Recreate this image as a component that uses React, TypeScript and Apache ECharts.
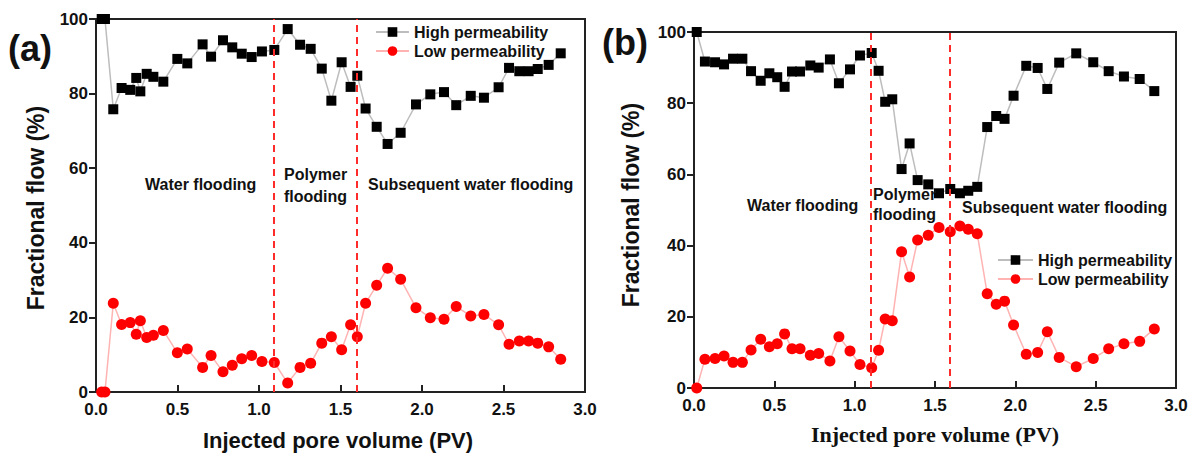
import React, { useEffect, useRef } from "react";
import * as echarts from "echarts";

// Panel (a)
const pvA = [0.035, 0.055, 0.106, 0.157, 0.21, 0.247, 0.272, 0.311, 0.352, 0.413, 0.499, 0.56, 0.654, 0.706, 0.779, 0.836, 0.894, 0.955, 1.018, 1.094, 1.176, 1.252, 1.317, 1.385, 1.444, 1.507, 1.562, 1.603, 1.654, 1.722, 1.789, 1.869, 1.963, 2.051, 2.135, 2.21, 2.299, 2.38, 2.47, 2.534, 2.597, 2.654, 2.71, 2.777, 2.851];
const highA = [100, 100, 75.8, 81.5, 81, 84.2, 80.6, 85.3, 84.5, 83.2, 89.3, 88.1, 93.2, 89.9, 94.3, 92.4, 90.7, 89.8, 91.3, 91.7, 97.3, 93.1, 92, 86.7, 78.1, 88.4, 81.8, 84.8, 76, 71.1, 66.5, 69.5, 77.1, 79.8, 80.4, 76.9, 79.4, 78.9, 81.7, 86.9, 86, 86, 86.6, 87.7, 90.8];
const lowA = [0, 0, 23.8, 18.1, 18.6, 15.5, 19.1, 14.6, 15.2, 16.5, 10.5, 11.5, 6.6, 9.8, 5.4, 7.2, 8.9, 9.8, 8.2, 7.9, 2.4, 6.6, 7.7, 13.1, 14.8, 11.3, 18, 14.8, 23.8, 28.6, 33.2, 30.2, 22.6, 19.9, 19.5, 22.9, 20.4, 20.8, 18, 12.8, 13.7, 13.7, 13.1, 12.1, 8.8];
const phaseA = [1.09, 1.6];

// Panel (b)
const pvB = [0.017, 0.068, 0.131, 0.187, 0.243, 0.301, 0.355, 0.415, 0.469, 0.518, 0.564, 0.61, 0.66, 0.724, 0.776, 0.846, 0.902, 0.971, 1.033, 1.106, 1.149, 1.19, 1.234, 1.292, 1.342, 1.392, 1.458, 1.525, 1.595, 1.655, 1.707, 1.763, 1.825, 1.881, 1.933, 1.989, 2.068, 2.139, 2.199, 2.273, 2.379, 2.485, 2.581, 2.676, 2.774, 2.865];
const highB = [100, 91.7, 91.5, 90.9, 92.5, 92.5, 89, 86.3, 88.4, 87.3, 84.6, 88.9, 88.9, 90.6, 90, 92.3, 85.6, 89.5, 93.4, 94.1, 89.1, 80.4, 81.1, 61.5, 68.7, 58.4, 57.2, 54.7, 55.9, 54.7, 55.4, 56.5, 73.3, 76.4, 75.6, 82.1, 90.5, 89.9, 84, 91.4, 94, 91.5, 89, 87.5, 86.8, 83.4];
const lowB = [0, 8.1, 8.3, 9, 7.2, 7.2, 10.7, 13.7, 11.6, 12.4, 15.2, 11, 11, 9.2, 9.7, 7.6, 14.4, 10.4, 6.6, 5.7, 10.6, 19.4, 18.9, 38.3, 31.2, 41.6, 42.9, 45.1, 43.9, 45.5, 44.6, 43.3, 26.5, 23.5, 24.4, 17.7, 9.5, 10, 15.8, 8.6, 6, 8.3, 11, 12.4, 13.1, 16.6];
const phaseB = [1.1, 1.595];

const seriesNames = ["High permeability", "Low permeability"];
const xTicks = { min: 0, max: 3, interval: 0.5 };
const yTicks = { min: 0, max: 100, interval: 20 };

const SANS = "Arial, 'Liberation Sans', Helvetica, sans-serif";
const SERIF = "'Times New Roman', 'Liberation Serif', serif";

function zip(xs: number[], ys: number[]) {
  return xs.map((x, i) => [x, ys[i]]);
}

function xAxisFor(gridIndex: number) {
  return {
    type: "value",
    gridIndex,
    min: xTicks.min,
    max: xTicks.max,
    interval: xTicks.interval,
    axisLine: { show: true, onZero: false, lineStyle: { color: "#222", width: 2 } },
    axisTick: { show: true, inside: true, length: 7, lineStyle: { color: "#222", width: 2 } },
    axisLabel: {
      color: "#111",
      fontSize: 17,
      fontWeight: "bold",
      fontFamily: SANS,
      margin: 9,
      formatter: (v: number) => v.toFixed(1),
    },
    splitLine: { show: false },
  };
}

function yAxisFor(gridIndex: number) {
  return {
    type: "value",
    gridIndex,
    min: yTicks.min,
    max: yTicks.max,
    interval: yTicks.interval,
    axisLine: { show: true, onZero: false, lineStyle: { color: "#222", width: 2 } },
    axisTick: { show: true, inside: false, length: 7, lineStyle: { color: "#222", width: 2 } },
    axisLabel: {
      color: "#111",
      fontSize: 17,
      fontWeight: "bold",
      fontFamily: SANS,
      margin: 8,
    },
    splitLine: { show: false },
  };
}

function markLineFor(xs: number[]) {
  return {
    silent: true,
    symbol: ["none", "none"],
    label: { show: false },
    lineStyle: { color: "#ff2a2a", type: [7, 5], width: 2 },
    data: xs.map((x) => ({ xAxis: x })),
  };
}

function seriesFor(idx: number, pv: number[], high: number[], low: number[], phases: number[]) {
  return [
    {
      name: seriesNames[0],
      type: "line",
      xAxisIndex: idx,
      yAxisIndex: idx,
      data: zip(pv, high),
      symbol: "rect",
      symbolSize: 10,
      clip: false,
      itemStyle: { color: "#000" },
      lineStyle: { color: "#bdbdbd", width: 1.5 },
      z: 3,
    },
    {
      name: seriesNames[1],
      type: "line",
      xAxisIndex: idx,
      yAxisIndex: idx,
      data: zip(pv, low),
      symbol: "circle",
      symbolSize: 11,
      clip: false,
      itemStyle: { color: "#ff0000" },
      lineStyle: { color: "#ffb3b3", width: 1.5 },
      markLine: markLineFor(phases),
      z: 3,
    },
  ];
}

function txt(text: string, x: number, y: number, opts: any = {}) {
  return {
    type: "text",
    x,
    y,
    rotation: opts.rotation || 0,
    style: {
      text,
      fill: "#111",
      font: opts.font || `bold 16px ${SANS}`,
      textAlign: opts.align || "left",
      textVerticalAlign: "middle",
    },
    z: 10,
  };
}

export default function App() {
  const ref = useRef<HTMLDivElement>(null);
  useEffect(() => {
    if (!ref.current) return;
    const chart = echarts.init(ref.current, null, { renderer: "svg" });
    const gridStyle = { show: true, borderColor: "#222", borderWidth: 2, backgroundColor: "transparent" };
    const legendText = { color: "#111", fontSize: 16, fontWeight: "bold", fontFamily: SANS };
    chart.setOption({
      animation: false,
      backgroundColor: "#fff",
      grid: [
        { left: 96, top: 19, width: 489, height: 373, ...gridStyle },
        { left: 694, top: 32, width: 482, height: 356, ...gridStyle },
      ],
      xAxis: [xAxisFor(0), xAxisFor(1)],
      yAxis: [yAxisFor(0), yAxisFor(1)],
      legend: [
        {
          left: 370,
          top: 19,
          orient: "vertical",
          itemWidth: 33,
          itemHeight: 12,
          itemGap: 3,
          data: seriesNames,
          textStyle: legendText,
          selectedMode: false,
        },
        {
          left: 992,
          top: 247,
          orient: "vertical",
          itemWidth: 35,
          itemHeight: 12,
          itemGap: 3,
          data: seriesNames,
          textStyle: legendText,
          selectedMode: false,
        },
      ],
      graphic: [
        txt("(a)", 8, 48, { font: `bold 36px ${SANS}` }),
        txt("(b)", 602, 42, { font: `bold 36px ${SANS}` }),
        txt("Fractional flow (%)", 36, 208, { rotation: Math.PI / 2, align: "center", font: `bold 23px ${SANS}` }),
        txt("Fractional flow (%)", 631, 205, { rotation: Math.PI / 2, align: "center", font: `bold 23px ${SANS}` }),
        txt("Injected pore volume (PV)", 338, 440, { align: "center", font: `bold 22px ${SANS}` }),
        txt("Injected pore volume (PV)", 935, 434, { align: "center", font: `bold 22px ${SERIF}` }),
        txt("Water flooding", 145, 184),
        txt("Polymer", 284, 174),
        txt("flooding", 284, 196),
        txt("Subsequent water flooding", 368, 184),
        txt("Water flooding", 747, 205),
        txt("Polymer", 873, 194),
        txt("flooding", 873, 214),
        txt("Subsequent water flooding", 962, 207),
      ],
      series: [
        ...seriesFor(0, pvA, highA, lowA, phaseA),
        ...seriesFor(1, pvB, highB, lowB, phaseB),
      ],
    });
    return () => chart.dispose();
  }, []);
  return (
    <div
      ref={ref}
      style={{ position: "absolute", left: 0, top: 0, width: 1195, height: 458, background: "#fff" }}
    />
  );
}
